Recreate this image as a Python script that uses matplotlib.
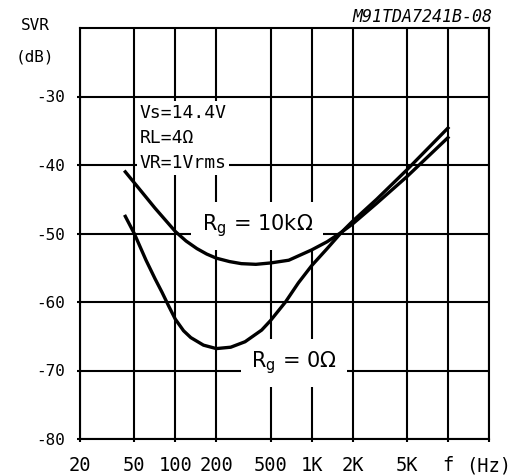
import matplotlib
matplotlib.use("Agg")
import matplotlib.pyplot as plt
from matplotlib.ticker import NullLocator

mono = 'DejaVu Sans Mono'

# axis ticks
freq_ticks = [20, 50, 100, 200, 500, 1000, 2000, 5000, 10000, 20000]
freq_labels = ['20', '50', '100', '200', '500', '1K', '2K', '5K', 'f', '(Hz)']
svr_ticks = [-30, -40, -50, -60, -70, -80]
svr_labels = ['-30', '-40', '-50', '-60', '-70', '-80']

# SVR vs frequency, Rg = 10k
f_10k = [43, 54, 71, 100, 120, 144, 170, 200, 250, 305, 390, 500, 680, 1000, 1300, 1660, 2000,
         3000, 5000, 10000]
svr_10k = [-41.0, -43.4, -46.3, -49.7, -51.1, -52.2, -53.0, -53.6, -54.1, -54.4, -54.5, -54.3,
           -53.9, -52.4, -51.2, -49.8, -48.6, -45.6, -41.7, -36.0]

# SVR vs frequency, Rg = 0
f_0 = [43, 50, 61, 71, 80, 90, 100, 115, 130, 161, 200, 255, 325, 430, 500, 643, 800, 1000,
       1300, 1660, 2000, 3000, 5000, 10000]
svr_0 = [-47.5, -50.0, -53.9, -56.6, -58.6, -60.7, -62.5, -64.2, -65.2, -66.3, -66.8, -66.6,
         -65.8, -64.1, -62.7, -60.0, -57.2, -54.7, -52.2, -49.8, -48.2, -45.0, -40.7, -34.6]

fig = plt.figure(figsize=(5.19, 4.75), dpi=100)
ax = fig.add_axes([80 / 519, 36 / 475, 409 / 519, 411 / 475])

ax.set_xscale('log')
ax.set_xlim(20, 20000)
ax.set_ylim(-80, -20)
ax.set_xticks(freq_ticks)
ax.set_xticklabels(freq_labels, family=mono, fontsize=13.5)
ax.xaxis.set_minor_locator(NullLocator())
ax.set_yticks(svr_ticks)
ax.set_yticklabels(svr_labels, family=mono, fontsize=11.5, ha='center')
ax.tick_params(axis='x', length=2, width=1.5, pad=10.4)
ax.tick_params(axis='y', length=2, width=1.5, pad=19)

ax.grid(True, color='black', lw=1.5)
ax.set_axisbelow(True)
for s in ax.spines.values():
    s.set_linewidth(1.5)

ax.plot(f_10k, svr_10k, color='black', lw=2.4, zorder=4)
ax.plot(f_0, svr_0, color='black', lw=2.4, zorder=4)

# conditions box
ax.text(0.145, 0.815, 'Vs=14.4V\nRL=4Ω\nVR=1Vrms', transform=ax.transAxes,
        family=mono, fontsize=13, va='top', ha='left', linespacing=1.5, zorder=3,
        bbox=dict(facecolor='white', edgecolor='none', pad=2))

# curve labels
ax.text(400, -49.6, r'R$_\mathregular{g}$ = 10kΩ', fontsize=15, ha='center', va='baseline',
        zorder=3, bbox=dict(facecolor='white', edgecolor='none', boxstyle='square,pad=0.5'))
ax.text(740, -69.6, r'R$_\mathregular{g}$ = 0Ω', fontsize=15, ha='center', va='baseline',
        zorder=3, bbox=dict(facecolor='white', edgecolor='none', boxstyle='square,pad=0.5'))

fig.text(35 / 519, 1 - 26 / 475, 'SVR', family=mono, fontsize=11.5, ha='center', va='center')
fig.text(35 / 519, 1 - 57 / 475, '(dB)', family=mono, fontsize=11.5, ha='center', va='center')
fig.text(492 / 519, 1 - 17 / 475, 'M91TDA7241B-08', family=mono, style='italic', fontsize=12,
         ha='right', va='center')

fig.savefig('out.png', dpi=100)
